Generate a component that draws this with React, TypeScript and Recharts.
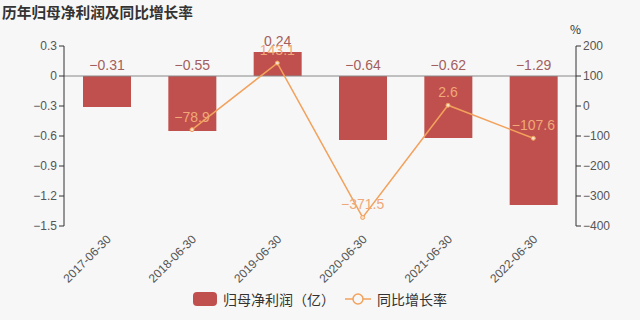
import {
  ComposedChart,
  Bar,
  Line,
  XAxis,
  YAxis,
  ReferenceLine,
  LabelList,
  Legend,
} from "recharts";

const years = ["2017-06-30", "2018-06-30", "2019-06-30", "2020-06-30", "2021-06-30", "2022-06-30"];
const profit = [-0.31, -0.55, 0.24, -0.64, -0.62, -1.29];
const growth = [null, -78.9, 143.1, -371.5, 2.6, -107.6];
const leftTicks = [-1.5, -1.2, -0.9, -0.6, -0.3, 0, 0.3];
const rightTicks = [-400, -300, -200, -100, 0, 100, 200];

const data = years.map((name, i) => ({
  name,
  profit: profit[i],
  growth: growth[i],
}));

const BAR = "#c0504d";
const LINE = "#f2a25c";
const FONT = "'Noto Sans CJK SC', 'Noto Sans', sans-serif";
const NUM = "'Liberation Sans', Arial, sans-serif";

const minus = (v: number | string) => String(v).replace("-", "−");

const BarLabel = (props: any) => {
  const { x, y, width, height, value } = props;
  const top = Math.min(y, y + height);
  return (
    <text x={x + width / 2} y={top - 6} textAnchor="middle" fill="#a35f5d" fontSize={14} fontFamily={NUM}>
      {minus(value)}
    </text>
  );
};

const LineLabel = (props: any) => {
  const { x, y, value } = props;
  if (value == null) return null;
  return (
    <text x={x} y={y - 8} textAnchor="middle" fill="#f0a878" fontSize={14} fontFamily={NUM}>
      {minus(value)}
    </text>
  );
};

const XTick = (props: any) => {
  const { x, y, payload } = props;
  const px = x + 5;
  const py = y + 6;
  return (
    <text
      x={px}
      y={py}
      textAnchor="end"
      fill="#555"
      fontSize={12}
      fontFamily={NUM}
      transform={`rotate(-45, ${px}, ${py})`}
    >
      {payload.value}
    </text>
  );
};

const LegendBox = () => (
  <div
    style={{
      display: "flex",
      justifyContent: "center",
      alignItems: "center",
      fontSize: 14,
      color: "#333",
      fontFamily: FONT,
      gap: 6,
    }}
  >
    <span style={{ display: "inline-block", width: 24, height: 14, background: BAR, borderRadius: 4 }} />
    <span>归母净利润（亿）</span>
    <svg width={26} height={14} style={{ marginLeft: 4 }}>
      <line x1={0} y1={7} x2={26} y2={7} stroke={LINE} strokeWidth={1.5} />
      <circle cx={13} cy={7} r={5} fill="#f7f7f7" stroke={LINE} strokeWidth={1.5} />
    </svg>
    <span>同比增长率</span>
  </div>
);

export default function App() {
  return (
    <div
      style={{
        position: "fixed",
        left: 0,
        top: 0,
        width: 640,
        height: 320,
        background: "#f7f7f7",
        fontFamily: FONT,
      }}
    >
      <div
        style={{
          position: "absolute",
          left: 2,
          top: 1,
          fontSize: 14.7,
          fontWeight: "bold",
          color: "#333",
        }}
      >
        历年归母净利润及同比增长率
      </div>
      <div style={{ position: "absolute", left: 570, top: 20, fontSize: 12, color: "#333" }}>%</div>
      <ComposedChart
        width={640}
        height={320}
        data={data}
        margin={{ top: 46, right: 0, left: 0, bottom: 5 }}
      >
        <XAxis
          dataKey="name"
          axisLine={false}
          tickLine={false}
          interval={0}
          height={63}
          tick={<XTick />}
        />
        <YAxis
          yAxisId="left"
          domain={[-1.5, 0.3]}
          ticks={leftTicks}
          width={64}
          tickFormatter={minus}
          tick={{ fill: "#555", fontSize: 12, fontFamily: NUM }}
          axisLine={{ stroke: "#333" }}
          tickLine={{ stroke: "#333" }}
          tickSize={5}
        />
        <YAxis
          yAxisId="right"
          orientation="right"
          domain={[-400, 200]}
          ticks={rightTicks}
          width={64}
          tickFormatter={minus}
          tick={{ fill: "#555", fontSize: 12, fontFamily: NUM }}
          axisLine={{ stroke: "#333" }}
          tickLine={{ stroke: "#333" }}
          tickSize={5}
        />
        <ReferenceLine yAxisId="left" y={0} stroke="#888" strokeWidth={1} />
        <Legend verticalAlign="bottom" height={26} content={<LegendBox />} />
        <Bar yAxisId="left" dataKey="profit" fill={BAR} barSize={48} isAnimationActive={false}>
          <LabelList dataKey="profit" content={<BarLabel />} />
        </Bar>
        <Line
          yAxisId="right"
          dataKey="growth"
          stroke={LINE}
          strokeWidth={1.5}
          dot={{ r: 2, fill: "#f7e0c8", stroke: LINE, strokeWidth: 1 }}
          connectNulls={false}
          isAnimationActive={false}
        >
          <LabelList dataKey="growth" content={<LineLabel />} />
        </Line>
      </ComposedChart>
    </div>
  );
}
